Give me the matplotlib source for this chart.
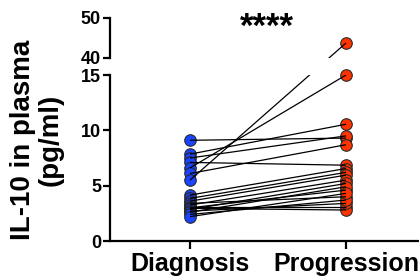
import matplotlib
matplotlib.use('Agg')
import matplotlib.pyplot as plt

# ---- data ----
groups = ['Diagnosis', 'Progression']
diagnosis = [9.1, 7.85, 7.5, 7.1, 6.6, 6.1, 5.5, 4.15, 3.85, 3.6, 3.4, 3.25,
             3.1, 3.0, 2.95, 2.85, 2.7, 2.6, 2.4, 2.2]
progression = [9.3, 10.55, 9.5, 6.85, 15.0, 8.7, 43.75, 6.55, 6.2, 5.95, 4.0,
               5.5, 3.1, 4.6, 2.8, 5.2, 3.4, 4.9, 3.7, 4.3]
lower_ticks = [0, 5, 10, 15]
upper_ticks = [40, 50]
lower_lim = (0, 15)
upper_lim = (40, 50)
significance = '****'
ylabel = 'IL-10 in plasma\n(pg/ml)'

# ---- style ----
plt.rcParams['font.family'] = ['Liberation Sans', 'DejaVu Sans']
plt.rcParams['font.weight'] = 'bold'
colors = ['#1a44ff', '#ff3300']
edge = '#2a2a2a'
spine_w = 1.6

W, H = 419, 276
fig = plt.figure(figsize=(W / 100, H / 100), dpi=100)


def frac(l, t, r, b):
    return [l / W, 1 - b / H, (r - l) / W, (b - t) / H]


ax_lo = fig.add_axes(frac(110, 75, 419, 241))
ax_hi = fig.add_axes(frac(110, 18, 419, 58))

xlim = (-0.513, 1.468)
for ax, lim in ((ax_lo, lower_lim), (ax_hi, upper_lim)):
    ax.set_xlim(*xlim)
    ax.set_ylim(*lim)
    ax.patch.set_visible(False)
    for s in ('top', 'right'):
        ax.spines[s].set_visible(False)
    ax.spines['left'].set_linewidth(spine_w)
    ax.spines['bottom'].set_linewidth(spine_w)
    ax.tick_params(axis='y', direction='out', length=5, width=spine_w,
                   labelsize=13, pad=1.5)

ax_hi.spines['bottom'].set_visible(False)
ax_hi.set_xticks([])
ax_hi.set_yticks(upper_ticks)
ax_lo.set_yticks(lower_ticks)
ax_lo.set_xticks(range(len(groups)))
ax_lo.set_xticklabels(groups, fontsize=18, fontweight='bold')
ax_lo.tick_params(axis='x', direction='out', length=6, width=spine_w, pad=2)
for lab in ax_lo.get_yticklabels() + ax_hi.get_yticklabels():
    lab.set_fontweight('bold')


def axis_for(v):
    return ax_hi if v >= upper_lim[0] else ax_lo


def to_fig(x, v):
    ax = axis_for(v)
    disp = ax.transData.transform((x, v))
    return fig.transFigure.inverted().transform(disp)


# connecting lines, drawn straight in figure space and clipped to each panel
for d, p in zip(diagnosis, progression):
    p0 = to_fig(0, d)
    p1 = to_fig(1, p)
    for ax in (ax_lo, ax_hi):
        ax.plot([p0[0], p1[0]], [p0[1], p1[1]], color='black', lw=0.9,
                transform=fig.transFigure, zorder=3, solid_capstyle='butt')

# markers
for gi, vals in enumerate((diagnosis, progression)):
    for ax in (ax_lo, ax_hi):
        sel = [v for v in vals if axis_for(v) is ax]
        if sel:
            ax.plot([gi] * len(sel), sel, 'o', ms=8.3, mfc=colors[gi], mec=edge,
                    mew=0.8, clip_on=False, zorder=2)

ax_hi.text(0.49, 47.7, significance, ha='center', va='center', fontsize=25,
           fontweight='bold')

fig.text(37 / W, 1 - 140 / H, ylabel, rotation=90, ha='center', va='center',
         fontsize=20, fontweight='bold', linespacing=1.05)

fig.savefig('out.png', dpi=100)
